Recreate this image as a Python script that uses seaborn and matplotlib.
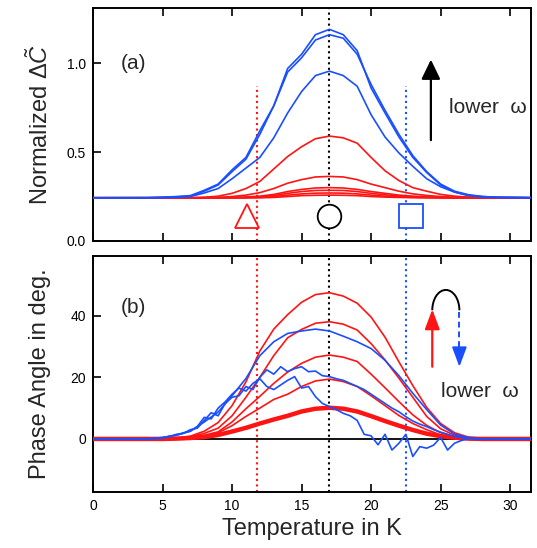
import numpy as np
import pandas as pd
import matplotlib
matplotlib.use("Agg")
import matplotlib.pyplot as plt
from matplotlib.patches import Arc
import seaborn as sns

# ---------------- data ----------------
T = [0, 4, 5, 6, 7, 8, 9, 10, 11, 12, 13, 14, 15, 16, 17, 18, 19, 20, 21, 22, 23, 24, 25, 26, 27, 28, 29, 32]

# panel (a): normalized dC
B1 = [.243, .244, .246, .250, .255, .285, .320, .400, .470, .620, .760, .970, 1.05, 1.16, 1.19, 1.16, 1.07, .860, .720, .585, .470, .385, .315, .275, .258, .250, .246, .243]
B2 = [.243, .243, .245, .248, .252, .280, .315, .390, .460, .600, .760, .950, 1.03, 1.13, 1.16, 1.14, 1.05, .880, .735, .600, .480, .390, .320, .280, .260, .250, .246, .243]
B3 = [.243, .243, .244, .246, .250, .270, .295, .350, .410, .470, .580, .720, .840, .930, .955, .930, .870, .710, .585, .495, .420, .350, .305, .275, .255, .248, .245, .243]
R1 = [.243, .243, .243, .243, .243, .246, .252, .268, .295, .335, .405, .475, .530, .575, .590, .580, .550, .470, .395, .340, .300, .280, .262, .252, .247, .245, .243, .243]
R2 = [.243, .243, .243, .243, .243, .243, .245, .250, .258, .272, .295, .325, .345, .360, .363, .360, .345, .320, .300, .280, .265, .256, .250, .246, .244, .243, .243, .243]
R3 = [.243, .243, .243, .243, .243, .243, .243, .245, .248, .252, .262, .278, .290, .298, .300, .298, .290, .278, .268, .258, .252, .248, .245, .243, .243, .243, .243, .243]
R4 = [.243, .243, .243, .243, .243, .243, .243, .243, .245, .249, .256, .268, .278, .284, .285, .284, .278, .268, .260, .253, .249, .246, .244, .243, .243, .243, .243, .243]
R5 = [.243, .243, .243, .243, .243, .243, .243, .243, .243, .245, .250, .258, .265, .269, .270, .269, .265, .258, .252, .248, .245, .244, .243, .243, .243, .243, .243, .243]
R6 = [.243, .243, .243, .243, .243, .243, .243, .243, .243, .243, .245, .250, .255, .257, .258, .257, .255, .250, .247, .245, .244, .243, .243, .243, .243, .243, .243, .243]

# panel (b): phase angle (deg)
P1 = [0, 0, 0.1, 0.3, 0.9, 2.5, 5.3, 10.8, 18.5, 28.5, 35.6, 40.3, 44.3, 46.8, 47.4, 46.3, 44.0, 39.5, 33.0, 25.0, 17.3, 10.2, 5.0, 2.0, 0.6, 0.1, 0, 0]
P2 = [0, 0, 0.1, 0.2, 0.7, 1.8, 3.5, 7.5, 13.5, 20.0, 27.0, 32.8, 35.5, 37.5, 38.0, 37.2, 35.3, 30.9, 25.6, 19.7, 13.5, 7.3, 3.3, 1.2, 0.3, 0, 0, 0]
P3 = [0, 0, 0, 0.1, 0.5, 1.2, 2.3, 5.5, 9.8, 13.8, 18.0, 21.7, 24.5, 26.5, 27.2, 26.5, 25.1, 21.0, 16.6, 12.1, 7.8, 4.4, 2.0, 0.8, 0.2, 0, 0, 0]
P4 = [0, 0, 0, 0.1, 0.4, 1.0, 2.0, 4.3, 7.3, 10.0, 12.8, 14.5, 17.0, 18.8, 19.4, 18.6, 17.0, 14.0, 10.8, 7.6, 5.0, 3.0, 1.3, 0.5, 0.1, 0, 0, 0]
P5 = [0, 0, 0, 0.1, 0.3, 0.6, 1.3, 2.4, 3.6, 5.0, 6.3, 7.5, 8.9, 9.8, 10.1, 9.8, 8.9, 7.4, 5.8, 4.3, 2.9, 1.7, 0.9, 0.4, 0.1, 0, 0, 0]
Q1 = [0, 0, 0.5, 1.2, 2.5, 5.5, 8.7, 14.0, 19.6, 27.0, 31.5, 34.2, 35.0, 35.6, 35.0, 33.3, 31.5, 29.3, 25.5, 20.5, 14.8, 9.5, 4.5, 1.6, 0.4, 0, 0, 0]

Tq = [0, 4, 5, 5.5, 6, 6.5, 7, 7.5, 8, 8.5, 9, 9.5, 10, 10.5, 11, 11.5, 12, 12.5, 13, 13.5,
      14, 14.5, 15, 15.5, 16, 16.5, 17, 17.5, 18, 18.5, 19, 19.5, 20, 20.5, 21, 21.5, 22, 22.5,
      23, 23.5, 24, 24.5, 25, 25.5, 26, 26.5, 27, 27.5, 28, 32]
Q2 = [0, 0, 0.4, 0.8, 1.5, 1.8, 3.0, 3.5, 6.0, 8.5, 7.5, 11.5, 13.5, 14.0, 17.0, 16.0, 20.0, 22.4, 21.0, 23.4,
      21.8, 22.8, 23.4, 21.8, 22.0, 20.5, 20.2, 19.5, 19.0, 18.0, 17.0, 16.0, 14.5, 13.0, 11.5, 10.0, 8.8, 7.2,
      5.8, 4.8, 4.0, 3.0, 2.2, 1.5, 0.8, 0.5, 0.2, 0, 0, 0]
Q3 = [0, 0, 0.3, 0.9, 1.2, 2.0, 2.5, 4.0, 7.0, 6.5, 10.0, 12.0, 14.5, 16.5, 15.5, 18.0, 19.5, 17.0, 16.0, 17.5,
      19.0, 20.2, 16.5, 17.0, 13.7, 11.5, 10.5, 9.5, 8.3, 7.5, 6.0, 1.5, 1.0, -1.9, 1.5, -3.6, -1.4, 1.5,
      -5.7, -2.5, -3.0, -2.0, 0.5, -3.6, -1.4, -0.5, 0.2, 0, 0, 0]

marker_T = [11.1, 17.0, 22.9]
marker_y = [0.14, 0.14, 0.14]
guide_T = [11.8, 17.0, 22.5]

RED = "#ff1414"
BLUE = "#1a4fff"

# ---------------- style ----------------
sns.set_style("ticks")
plt.rcParams["font.family"] = ["Liberation Sans", "DejaVu Sans"]
plt.rcParams["mathtext.fontset"] = "custom"
plt.rcParams["mathtext.rm"] = "Liberation Sans"
plt.rcParams["mathtext.it"] = "Liberation Sans:italic"

fig = plt.figure(figsize=(5.37, 5.48), dpi=100)
ax1 = fig.add_axes([93/537, 1-241/548, 438/537, 233/548])
ax2 = fig.add_axes([93/537, 1-492/548, 438/537, 236/548])

def line(ax, x, y, color, lw=1.2, z=3):
    sns.lineplot(x=x, y=y, ax=ax, color=color, lw=lw, estimator=None, sort=False, zorder=z)

# panel (a)
for s in [R6, R5, R4, R3, R2, R1]:
    line(ax1, T, s, RED)
for s in [B3, B2, B1]:
    line(ax1, T, s, BLUE)

ax1.vlines(guide_T[0], 0, 0.87, colors=RED, linestyles=":", lw=1.5, zorder=2)
ax1.vlines(guide_T[2], 0, 0.87, colors=BLUE, linestyles=":", lw=1.5, zorder=2)
ax1.axvline(guide_T[1], color="k", ls=":", lw=1.5, zorder=2)

ax1.plot(marker_T[0], marker_y[0], marker="^", ms=17, mfc="white", mec=RED, mew=1.3, zorder=5)
ax1.plot(marker_T[1], marker_y[1], marker="o", ms=17, mfc="white", mec="k", mew=1.3, zorder=5)
ax1.plot(marker_T[2], marker_y[2], marker="s", ms=17, mfc="white", mec=BLUE, mew=1.3, zorder=5)

ax1.annotate("", xy=(24.3, 1.02), xytext=(24.3, 0.567),
             arrowprops=dict(arrowstyle="-|>,head_length=1.2,head_width=0.58",
                             lw=1.6, color="k", shrinkA=0, shrinkB=0))
ax1.text(25.6, 0.75, "lower  ω", fontsize=15, va="center", ha="left")
ax1.text(2.0, 1.0, "(a)", fontsize=15, va="center", ha="left")

ax1.set_xlim(0, 31.5)
ax1.set_ylim(0, 1.31)
ax1.set_yticks([0.0, 0.5, 1.0])
ax1.set_yticklabels(["0.0", "0.5", "1.0"])
ax1.set_xticks([0, 5, 10, 15, 20, 25, 30])
ax1.tick_params(axis="x", labelbottom=False)
ax1.set_ylabel(r"Normalized $\Delta\tilde{C}$", fontsize=17, labelpad=10)

# panel (b)
ax2.axhline(0, color="k", lw=1.3, zorder=1)
line(ax2, T, P5, RED, lw=3.2)
for s in [P4, P3, P2, P1]:
    line(ax2, T, s, RED)
line(ax2, Tq, Q3, BLUE)
line(ax2, Tq, Q2, BLUE)
line(ax2, T, Q1, BLUE)

ax2.axvline(guide_T[0], color=RED, ls=":", lw=1.5, zorder=2)
ax2.axvline(guide_T[1], color="k", ls=":", lw=1.5, zorder=2)
ax2.axvline(guide_T[2], color=BLUE, ls=":", lw=1.5, zorder=2)

ax2.annotate("", xy=(24.4, 42.0), xytext=(24.4, 23.4),
             arrowprops=dict(arrowstyle="-|>,head_length=1.2,head_width=0.45",
                             lw=1.6, color=RED, shrinkA=0, shrinkB=0))
ax2.add_patch(Arc((25.375, 41.7), 1.95, 13.2, theta1=0, theta2=180, color="k", lw=1.4))
ax2.plot([26.35, 26.35], [41.3, 28.5], color=BLUE, ls=(0, (3, 2)), lw=1.4)
ax2.annotate("", xy=(26.35, 23.4), xytext=(26.35, 29.0),
             arrowprops=dict(arrowstyle="-|>,head_length=1.2,head_width=0.45",
                             lw=1.4, color=BLUE, shrinkA=0, shrinkB=0))
ax2.text(25.0, 15.3, "lower  ω", fontsize=15, va="center", ha="left")
ax2.text(2.0, 42.5, "(b)", fontsize=15, va="center", ha="left")

ax2.set_xlim(0, 31.5)
ax2.set_ylim(-17.2, 59.3)
ax2.set_yticks([0, 20, 40])
ax2.set_xticks([0, 5, 10, 15, 20, 25, 30])
ax2.set_ylabel("Phase Angle in deg.", fontsize=17, labelpad=14)
ax2.set_xlabel("Temperature in K", fontsize=17, labelpad=4)

for ax in (ax1, ax2):
    for sp in ax.spines.values():
        sp.set_visible(True)
        sp.set_linewidth(1.4)
        sp.set_color("k")
    ax.tick_params(direction="in", length=6, width=1.2, top=True, right=False,
                   labelsize=10, colors="k", pad=5)

fig.savefig("out.png", dpi=100)
